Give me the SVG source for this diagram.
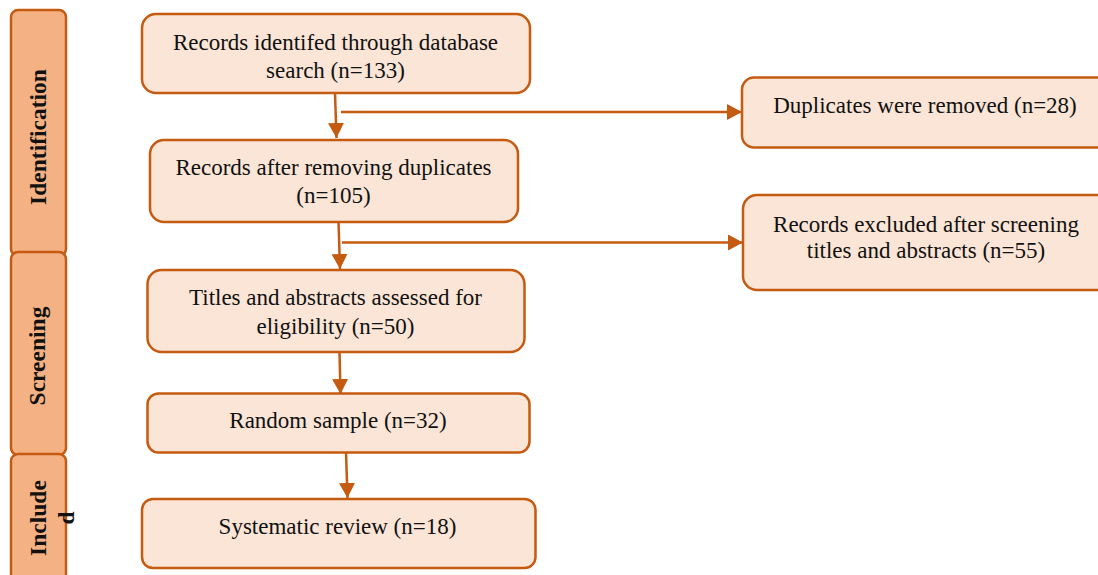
<svg xmlns="http://www.w3.org/2000/svg" width="1098" height="575" viewBox="0 0 1098 575">
<style>
.box{fill:#FBE5D6;stroke:#C55A11;stroke-width:2.5}
.side{fill:#F4B183;stroke:#C55A11;stroke-width:2.5}
.t{font-family:"Liberation Serif",serif;font-size:23px;fill:#111;text-anchor:middle}
.s{font-family:"Liberation Serif",serif;font-size:23.5px;font-weight:bold;fill:#111;text-anchor:middle}
.c{stroke:#C55A11;stroke-width:2.5;fill:none}
</style>
<defs>
<marker id="ah" markerUnits="userSpaceOnUse" markerWidth="16" markerHeight="16" viewBox="0 0 16 16" refX="15" refY="8" orient="auto">
<path d="M0,0 L15,8 L0,16 Z" fill="#C55A11"/>
</marker>
</defs>
<g id="phase-identification"><rect class="side" x="11" y="10" width="55" height="246" rx="7"/><text class="s" transform="translate(46,137) rotate(-90)">Identification</text></g>
<g id="phase-screening"><rect class="side" x="11" y="252" width="55" height="203" rx="7"/><text class="s" transform="translate(45,356) rotate(-90)">Screening</text></g>
<g id="phase-included"><rect class="side" x="11" y="454" width="55" height="140" rx="7"/><text class="s" transform="translate(46,518) rotate(-90)">Include<tspan x="0" dy="28">d</tspan></text></g>

<g id="connectors">
<line class="c" x1="335" y1="93" x2="336.5" y2="138" marker-end="url(#ah)"/>
<line class="c" x1="341" y1="112" x2="742" y2="112" marker-end="url(#ah)"/>
<line class="c" x1="338.5" y1="222" x2="340" y2="269" marker-end="url(#ah)"/>
<line class="c" x1="342" y1="242.5" x2="743" y2="242.5" marker-end="url(#ah)"/>
<line class="c" x1="339.5" y1="352" x2="340.5" y2="394" marker-end="url(#ah)"/>
<line class="c" x1="346" y1="452" x2="347.5" y2="498" marker-end="url(#ah)"/>
</g>

<g id="n1"><rect class="box" x="142" y="14" width="388" height="79" rx="14"/><text class="t" x="335.5" y="50">Records identifed through database</text><text class="t" x="335.5" y="78">search (n=133)</text></g>
<g id="n2"><rect class="box" x="150" y="140" width="368" height="82" rx="14"/><text class="t" x="333.5" y="175">Records after removing duplicates</text><text class="t" x="333.5" y="203">(n=105)</text></g>
<g id="n3"><rect class="box" x="147.5" y="270" width="377" height="82" rx="14"/><text class="t" x="335.5" y="305">Titles and abstracts assessed for</text><text class="t" x="335.5" y="334">eligibility (n=50)</text></g>
<g id="n4"><rect class="box" x="147.5" y="393.5" width="382" height="59" rx="11"/><text class="t" x="338" y="428">Random sample (n=32)</text></g>
<g id="n5"><rect class="box" x="142" y="499" width="393.5" height="69" rx="11"/><text class="t" x="337.5" y="534">Systematic review (n=18)</text></g>
<g id="n6"><rect class="box" x="742" y="77.5" width="368" height="70" rx="12"/><text class="t" x="925" y="113">Duplicates were removed (n=28)</text></g>
<g id="n7"><rect class="box" x="743" y="195" width="368" height="95" rx="14"/><text class="t" x="926" y="231.5">Records excluded after screening</text><text class="t" x="926" y="258">titles and abstracts (n=55)</text></g>
</svg>
